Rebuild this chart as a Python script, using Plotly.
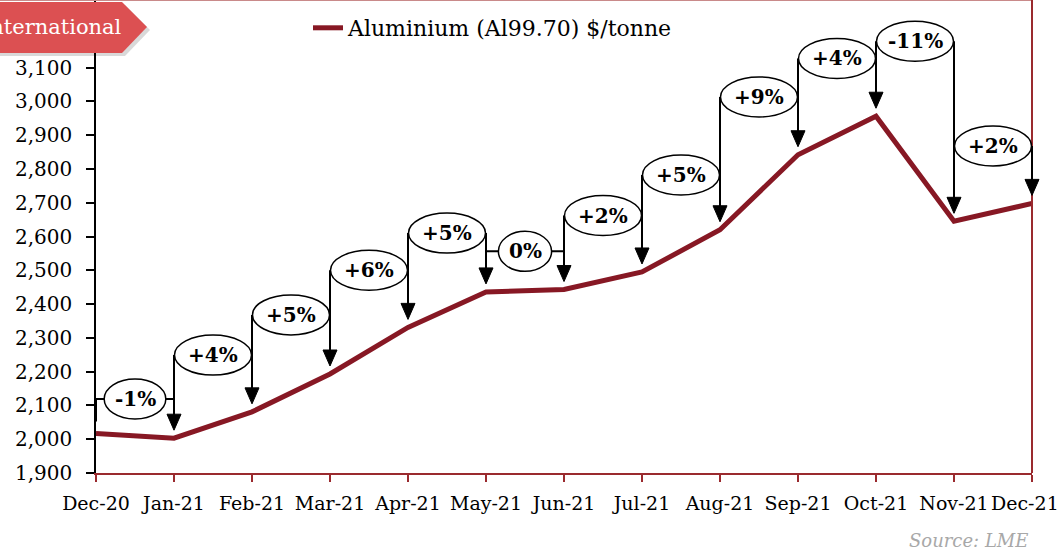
import plotly.graph_objects as go

# ---------------- data ----------------
months = ["Dec-20", "Jan-21", "Feb-21", "Mar-21", "Apr-21", "May-21", "Jun-21",
          "Jul-21", "Aug-21", "Sep-21", "Oct-21", "Nov-21", "Dec-21"]
prices = [2017, 2003, 2081, 2193, 2331, 2436, 2443, 2495, 2620, 2842, 2956, 2645, 2698]
change_labels = ["-1%", "+4%", "+5%", "+6%", "+5%", "0%", "+2%", "+5%", "+9%", "+4%", "-11%", "+2%"]
label_levels = [2119, 2249, 2368, 2500, 2610, 2556, 2662, 2782, 3013, 3127, 3178, 2868]
y_ticks = [1900, 2000, 2100, 2200, 2300, 2400, 2500, 2600, 2700, 2800, 2900, 3000, 3100]
series_name = "Aluminium (Al99.70) $/tonne"
source_text = "Source: LME"
tag_text = "International"

# ---------------- style ----------------
FONT = "DejaVu Serif"
LINE_RED = "#871824"
AXIS_RED = "#9a2a2e"
TAG_RED = "#dc5052"
Y_RANGE = [1900, 3300]
M_L, M_R, M_T, M_B = 96, 30, 0, 87
W, H = 1062, 560
PLOT_H = H - M_T - M_B
PLOT_W = W - M_L - M_R
units_per_px = (Y_RANGE[1] - Y_RANGE[0]) / PLOT_H
gap = 12 * units_per_px
TICK_FONT = 19

CHAR_W = {"+": 17.6, "-": 6, "%": 21}


def ellipse_width(label):
    tw = sum(CHAR_W.get(c, 14.6) for c in label)
    return min(77, 1.41 * tw + 3)


x_idx = list(range(len(months)))
n_int = len(months) - 1


def xp(i):
    """category index -> paper x (so marks at the right edge are not clipped)"""
    return x_idx[i] / n_int


fig = go.Figure()

# main series
fig.add_trace(go.Scatter(x=x_idx, y=prices, mode="lines", name=series_name,
                         line=dict(color=LINE_RED, width=5)))

shapes = []
annotations = []

# frame lines: top and right (below connectors)
shapes.append(dict(type="line", xref="paper", yref="paper", x0=-0.11, x1=1, y0=1, y1=1,
                   line=dict(color="#c98a8a", width=2), layer="above"))
shapes.append(dict(type="line", xref="paper", yref="paper", x0=1, x1=1, y0=0, y1=1,
                   line=dict(color=AXIS_RED, width=2), layer="above"))

# connector segments (brackets)
conn = dict(color="black", width=2)
for i in range(1, len(prices)):
    lvl = label_levels[i - 1]
    xl, xr = xp(i - 1), xp(i)
    shapes.append(dict(type="line", xref="paper", yref="y", layer="above",
                       x0=xl, x1=xl, y0=prices[i - 1] + gap, y1=lvl, line=conn))
    shapes.append(dict(type="line", xref="paper", yref="y", layer="above",
                       x0=xl, x1=xr, y0=lvl, y1=lvl, line=conn))
    shapes.append(dict(type="line", xref="paper", yref="y", layer="above",
                       x0=xr, x1=xr, y0=lvl, y1=prices[i] + gap, line=conn))

for i in range(1, len(prices)):
    mid = (x_idx[i - 1] + x_idx[i]) / 2
    lvl = label_levels[i - 1]
    w = ellipse_width(change_labels[i - 1])
    shapes.append(dict(type="circle", xref="x", yref="y", layer="above",
                       xsizemode="pixel", ysizemode="pixel",
                       xanchor=mid, yanchor=lvl,
                       x0=-w / 2, x1=w / 2, y0=-20, y1=20,
                       fillcolor="white", line=dict(color="black", width=1.5)))
    # arrow head
    shapes.append(dict(type="path", xref="paper", yref="y", layer="above",
                       xsizemode="pixel", ysizemode="pixel",
                       xanchor=xp(i), yanchor=prices[i],
                       path="M-7,24 L7,24 L0,8 Z",
                       fillcolor="black", line=dict(color="black", width=1)))
    annotations.append(dict(x=mid, y=lvl, xref="x", yref="y", showarrow=False,
                            text="<b>%s</b>" % change_labels[i - 1],
                            font=dict(family=FONT, size=20, color="black"),
                            xanchor="center", yanchor="middle"))

# last category label sits at the page edge: keep it inside the page
annotations.append(dict(x=(W - 1 - M_L) / PLOT_W, y=-30 / PLOT_H, xref="paper", yref="paper",
                        showarrow=False, text=months[-1], xanchor="right", yanchor="middle",
                        font=dict(family=FONT, size=TICK_FONT, color="black")))

# tag shadow + tag
shapes.append(dict(type="path", xref="paper", yref="paper", layer="above",
                   xsizemode="pixel", ysizemode="pixel", xanchor=0, yanchor=1,
                   path="M-110,-5 L29,-5 L54,-30 L29,-56 L-110,-56 Z",
                   fillcolor="rgba(0,0,0,0.15)", line=dict(width=0)))
shapes.append(dict(type="path", xref="paper", yref="paper", layer="above",
                   xsizemode="pixel", ysizemode="pixel", xanchor=0, yanchor=1,
                   path="M-110,-2 L26,-2 L51,-27 L26,-53 L-110,-53 Z",
                   fillcolor=TAG_RED, line=dict(width=0)))
annotations.append(dict(x=(124 - M_L) / PLOT_W, y=(PLOT_H - 27) / PLOT_H,
                        xref="paper", yref="paper", showarrow=False, text=tag_text,
                        xanchor="right", yanchor="middle",
                        font=dict(family=FONT, size=21, color="white")))

annotations.append(dict(x=(1030 - M_L) / PLOT_W, y=(PLOT_H - 540) / PLOT_H, xref="paper", yref="paper",
                        showarrow=False, text="<i>%s</i>" % source_text,
                        xanchor="right", yanchor="middle",
                        font=dict(family=FONT, size=18, color="#a8a8a8")))

tick_text = months[:-1] + [""]

fig.update_layout(
    width=W, height=H,
    margin=dict(l=M_L, r=M_R, t=M_T, b=M_B),
    plot_bgcolor="white", paper_bgcolor="white",
    font=dict(family=FONT, size=19, color="black"),
    shapes=shapes, annotations=annotations,
    showlegend=True,
    legend=dict(x=(308 - M_L) / PLOT_W, y=(PLOT_H - 28) / PLOT_H,
                xanchor="left", yanchor="middle", orientation="h",
                bgcolor="rgba(0,0,0,0)", font=dict(family=FONT, size=22)),
    xaxis=dict(range=[0, n_int], tickmode="array", tickvals=x_idx, ticktext=tick_text,
               showline=True, linecolor=AXIS_RED, linewidth=2,
               ticks="outside", ticklen=7, tickwidth=1.5, tickcolor=AXIS_RED,
               showgrid=False, zeroline=False, ticklabelstandoff=5,
               tickfont=dict(family=FONT, size=TICK_FONT)),
    yaxis=dict(range=Y_RANGE, tickmode="array", tickvals=y_ticks, tickformat=",",
               showline=True, linecolor="black", linewidth=1.5,
               ticks="outside", ticklen=8, tickwidth=1.5, tickcolor="black",
               showgrid=False, zeroline=False, ticklabelstandoff=10,
               tickfont=dict(family=FONT, size=20)),
)

fig.write_html("out.html", config={"displayModeBar": False},
               post_script="document.body.style.margin='0px';")
